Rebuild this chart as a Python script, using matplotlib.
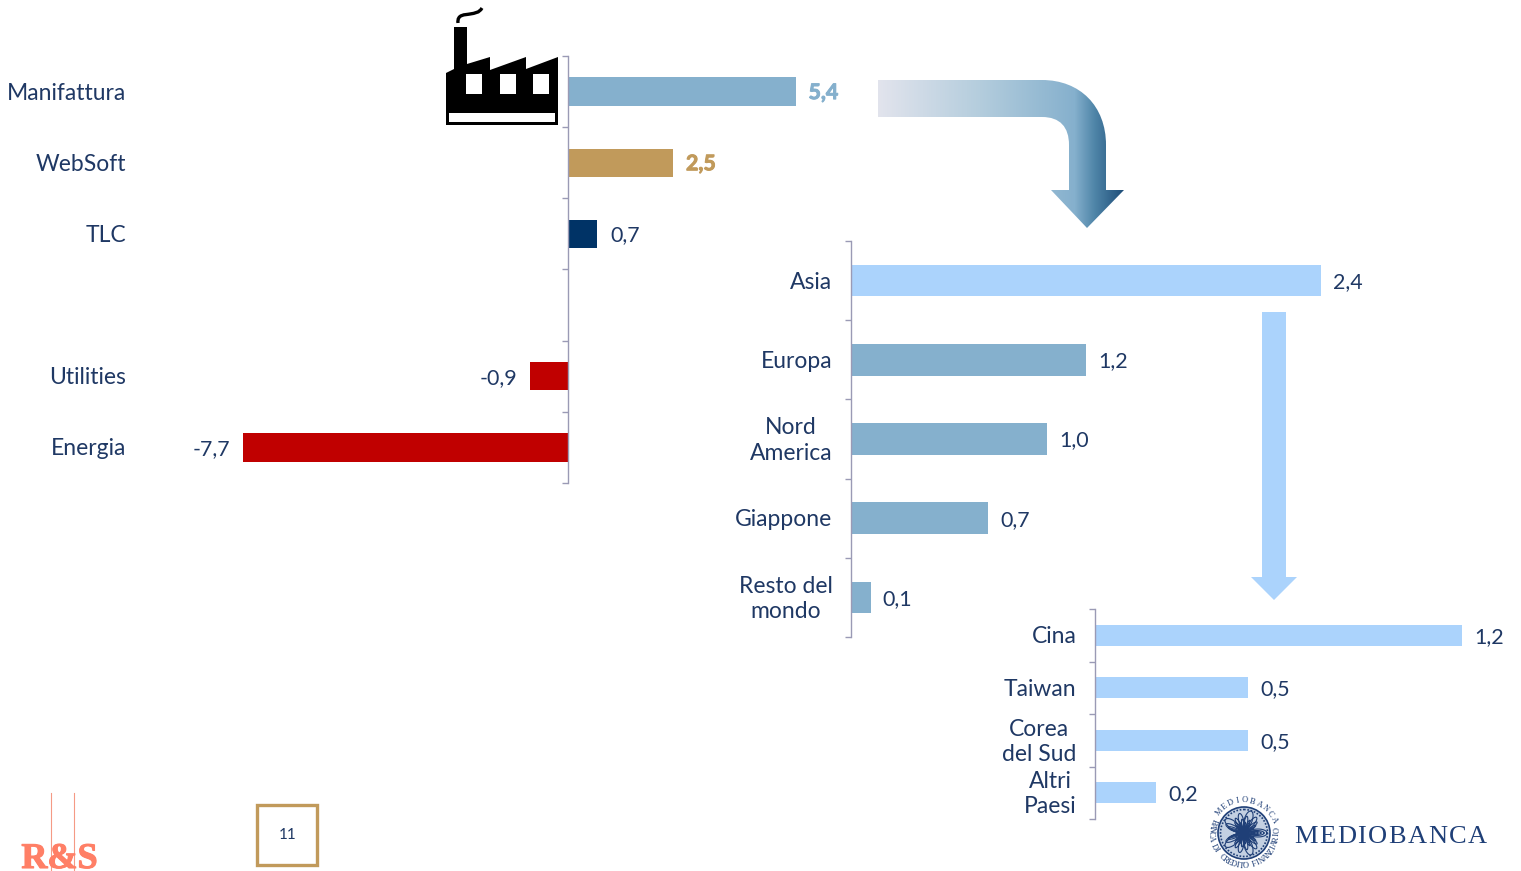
import numpy as np
import matplotlib
matplotlib.use("Agg")
import matplotlib.pyplot as plt
import matplotlib.patheffects as pe
from matplotlib.patches import Polygon, Rectangle, Circle, PathPatch
from matplotlib.path import Path

W, H = 1521, 871
TXT = "#1f3864"
FONT = "Lato"
SIZE = 16.5
VAL_SIZE = 15.4

sector_names = ["Manifattura", "WebSoft", "TLC", "", "Utilities", "Energia"]
sector_values = [5.4, 2.5, 0.7, np.nan, -0.9, -7.7]
sector_colors = ["#85b0cd", "#c19a5b", "#003366", "white", "#c00000", "#c00000"]

area_names = ["Asia", "Europa", "Nord\nAmerica", "Giappone", "Resto del\nmondo"]
area_values = [2.4, 1.2, 1.0, 0.7, 0.1]
area_colors = ["#abd3fc", "#85b0cd", "#85b0cd", "#85b0cd", "#85b0cd"]

asia_names = ["Cina", "Taiwan", "Corea\ndel Sud", "Altri\nPaesi"]
asia_values = [1.2, 0.5, 0.5, 0.2]
asia_colors = ["#abd3fc"] * 4

plt.rcParams["font.family"] = [FONT, "DejaVu Sans"]
fig = plt.figure(figsize=(W / 100, H / 100), dpi=100)


def px_axes(left, top, right, bottom):
    return fig.add_axes([left / W, 1 - bottom / H, (right - left) / W, (bottom - top) / H])


def hbars(box, xlim, names, values, colors, height, label_dx, value_dx, special={}):
    ax = px_axes(*box)
    ax.patch.set_alpha(0)
    n = len(names)
    pos = np.arange(n)
    ax.barh(pos, values, height=height, color=colors)
    ax.set_xlim(*xlim)
    ax.set_ylim(n - 0.5, -0.5)
    ax.set_xticks([])
    ax.set_yticks(np.arange(n + 1) - 0.5)
    ax.set_yticklabels([])
    ax.tick_params(axis="y", length=4.3, width=1, color="#9a9ab5")
    for s in ["top", "right", "bottom"]:
        ax.spines[s].set_visible(False)
    ax.spines["left"].set_position(("data", 0))
    ax.spines["left"].set_color("#9a9ab5")
    ax.spines["left"].set_linewidth(1)
    for i in pos:
        if names[i] == "":
            continue
        ax.annotate(names[i], xy=(0, i), xytext=(-label_dx * 0.72, -1.5 * 0.72), textcoords="offset points",
                    ha="right", va="center", ma="center", color=TXT, fontsize=SIZE, linespacing=1.25)
        v = values[i]
        side = 1 if v > 0 else -1
        col, bold = special.get(i, (TXT, False))
        lab = ax.annotate(f"{v:.1f}".replace(".", ","), xy=(v, i), xytext=(side * value_dx * 0.72, -1.5 * 0.72),
                          textcoords="offset points", ha="left" if v > 0 else "right", va="center",
                          color=col, fontsize=VAL_SIZE, fontweight="bold" if bold else "normal")
        if bold:
            lab.set_path_effects([pe.withStroke(linewidth=0.7, foreground=col)])
    return ax


hbars((242.5, 56, 796, 483), (-7.7, 5.4), sector_names, sector_values, sector_colors, 0.4, 441.5, 12.5,
      {0: ("#85b0cd", True), 1: ("#c19a5b", True)})
hbars((851, 241, 1321, 637), (0, 2.4), area_names, area_values, area_colors, 0.4, 18.5, 12)
hbars((1095, 609, 1462, 819), (0, 1.2), asia_names, asia_values, asia_colors, 0.4, 18.5, 12)

# overlay in pixel coordinates for arrows, icon and logos
ov = fig.add_axes([0, 0, 1, 1], zorder=5)
ov.set_xlim(0, W)
ov.set_ylim(H, 0)
ov.axis("off")
ov.patch.set_alpha(0)

# straight arrow from Asia down to the country breakdown
ov.add_patch(Polygon([(1262, 312), (1286, 312), (1286, 577), (1297, 577), (1274, 600), (1251, 577), (1262, 577)],
                     closed=True, fc="#abd3fc", ec="none"))

# bent arrow with a horizontal gradient
M, L, C = Path.MOVETO, Path.LINETO, Path.CURVE4
verts = [(878, 80), (1042, 80), (1080, 80), (1106, 106), (1106, 145), (1106, 190), (1124, 190), (1087, 228),
         (1051, 190), (1069, 190), (1069, 145), (1069, 127), (1060, 117), (1042, 117), (878, 117), (878, 80)]
codes = [M, L, C, C, C, L, L, L, L, L, L, C, C, C, L, L]
arrow = PathPatch(Path(verts, codes), fc="none", ec="none", transform=ov.transData)
ov.add_patch(arrow)
stops_x = np.array([878, 980, 1075, 1095, 1124])
stops = np.array([[0xe2, 0xe4, 0xed], [0xb4, 0xcd, 0xdd], [0x85, 0xb0, 0xcd], [0x4f, 0x85, 0xa8], [0x1f, 0x4e, 0x79]])
xs = np.arange(878, 1125)
grad = np.stack([np.interp(xs, stops_x, stops[:, k]) for k in range(3)], axis=-1)[None, :, :] / 255
im = ov.imshow(grad, extent=(878, 1124, 228, 80), aspect="auto", zorder=2, interpolation="bilinear")
im.set_clip_path(arrow)
ov.set_xlim(0, W)
ov.set_ylim(H, 0)

# factory icon
ov.add_patch(Polygon([(446, 73), (454, 69), (454, 27), (467, 27), (467, 64), (490, 57), (490, 70), (526, 57),
                      (526, 69), (558, 57), (558, 125), (446, 125)], closed=True, fc="black", ec="none", zorder=6))
for x0 in [466, 500, 533]:
    ov.add_patch(Rectangle((x0, 74), 16, 20, fc="white", ec="none", zorder=7))
ov.add_patch(Rectangle((449, 113), 106, 9, fc="white", ec="none", zorder=7))
smoke = Path([(458, 23), (457, 14), (465, 15), (470, 14), (475, 13), (479, 13), (482, 8)], [M, C, C, C, C, C, C])
ov.add_patch(PathPatch(smoke, fc="none", ec="black", lw=2.4, zorder=6))

# page number box
ov.add_patch(Rectangle((257, 805), 60, 59.5, fc="white", ec="#c19a5b", lw=2.4))
ov.text(288, 835, "11", ha="center", va="center", color=TXT, fontsize=11)

# R&S logo
ov.plot([50.5, 50.5], [793, 871], color="#f59a85", lw=0.8)
ov.plot([73.5, 73.5], [793, 871], color="#f59a85", lw=0.8)
ov.text(59.5, 868, "R&S", ha="center", va="baseline", color="#ff7f66", fontsize=26,
        family="Liberation Serif", fontweight="bold",
        path_effects=[pe.withStroke(linewidth=0.8, foreground="#ff7f66")])

# Mediobanca seal
NAVY = "#1f3f77"
cx, cy = 1244, 833
seal_top = "MEDIOBANCA"
seal_bottom = "BANCA DI CREDITO FINANZIARIO"
ov.add_patch(Circle((cx, cy), 26, fc="#c3d0e2", ec=NAVY, lw=1.2))
ov.add_patch(Circle((cx, cy), 23.5, fc="none", ec=NAVY, lw=1.2, ls=(0, (1, 1))))
t = np.linspace(0, 2 * np.pi, 600)
for k, rad in [(5, 23), (7, 20), (9, 17), (11, 14), (13, 11), (6, 8)]:
    rr = rad * (0.55 + 0.45 * np.cos(k * t))
    ov.plot(cx + rr * np.cos(t), cy + rr * np.sin(t), color=NAVY, lw=0.8)
for i, ch in enumerate(seal_top):
    a = np.deg2rad(-140 + i * 13)
    ov.text(cx + 32.5 * np.cos(a), cy + 32.5 * np.sin(a), ch, rotation=-np.rad2deg(a) - 90, rotation_mode="anchor",
            ha="center", va="center", fontsize=6, color=NAVY, family="Liberation Serif")
for i, ch in enumerate(seal_bottom):
    a = np.deg2rad(201 - i * 7.6)
    ov.text(cx + 33 * np.cos(a), cy + 33 * np.sin(a), ch, rotation=-np.rad2deg(a) + 90, rotation_mode="anchor",
            ha="center", va="center", fontsize=6, color=NAVY, family="Liberation Serif")

# wordmark, letter by letter for the wide tracking
rend = fig.canvas.get_renderer()
x = 1294
for ch in "MEDIOBANCA":
    lt = ov.text(x, 843, ch, ha="left", va="baseline", color=NAVY, fontsize=19, family="Liberation Serif")
    x += lt.get_window_extent(rend).width + 1.6

fig.savefig("out.png", dpi=100)
